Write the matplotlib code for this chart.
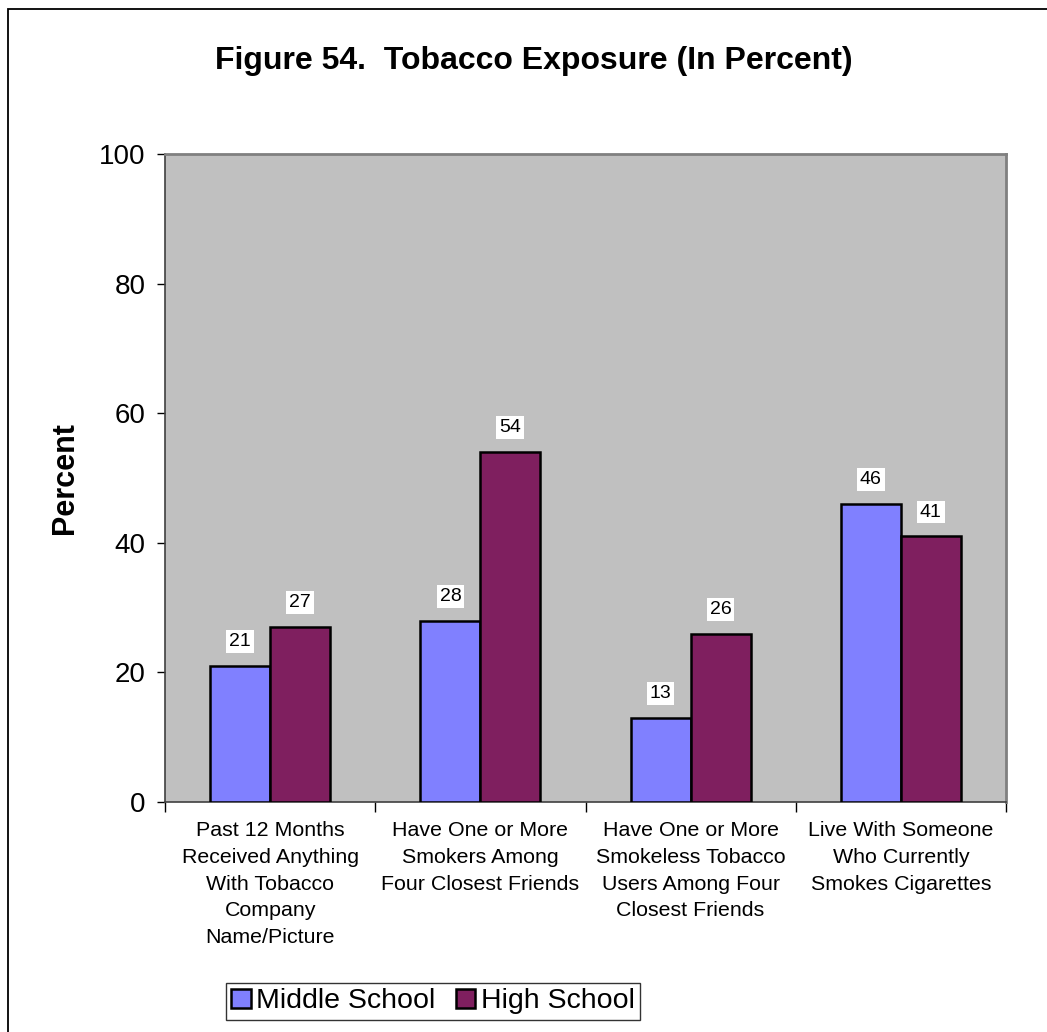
import matplotlib
matplotlib.use("Agg")
import matplotlib.pyplot as plt
from matplotlib.patches import Rectangle

plt.rcParams['font.family'] = ['Liberation Sans', 'DejaVu Sans']

categories = [
    "Past 12 Months\nReceived Anything\nWith Tobacco\nCompany\nName/Picture",
    "Have One or More\nSmokers Among\nFour Closest Friends",
    "Have One or More\nSmokeless Tobacco\nUsers Among Four\nClosest Friends",
    "Live With Someone\nWho Currently\nSmokes Cigarettes",
]
middle_school = [21, 28, 13, 46]
high_school = [27, 54, 26, 41]
series_names = ["Middle School", "High School"]
y_ticks = [0, 20, 40, 60, 80, 100]

W, H = 1047, 1032
fig = plt.figure(figsize=(W / 100, H / 100), dpi=100)

# outer frame of the chart
fig.patches.append(Rectangle((8 / W, -0.1), 2, 1.1 - 9 / H, transform=fig.transFigure,
                             fill=False, edgecolor='black', linewidth=1.3))

ax = fig.add_axes([165 / W, 1 - 802 / H, (1006 - 165) / W, (802 - 154) / H])
ax.set_facecolor('#C0C0C0')

bw = 0.285
xs = list(range(len(categories)))
b1 = ax.bar([x - bw / 2 for x in xs], middle_school, width=bw, color='#8080FF',
            edgecolor='black', linewidth=1.8, label=series_names[0], zorder=3)
b2 = ax.bar([x + bw / 2 for x in xs], high_school, width=bw, color='#7F1F5F',
            edgecolor='black', linewidth=1.8, label=series_names[1], zorder=3)

for bars, vals in ((b1, middle_school), (b2, high_school)):
    for rect, v in zip(bars, vals):
        ax.annotate(str(v), (rect.get_x() + rect.get_width() / 2, v),
                    xytext=(0, 17.5), textcoords='offset points', ha='center', va='center',
                    fontsize=14, zorder=4,
                    bbox=dict(boxstyle='square,pad=0.15', facecolor='white', edgecolor='none'))

ax.set_xlim(-0.5, len(categories) - 0.5)
ax.set_ylim(0, 100)
ax.set_yticks(y_ticks)
ax.set_yticklabels([str(t) for t in y_ticks], fontsize=20)
ax.tick_params(axis='y', length=6, width=1, pad=8)

ax.set_xticks(xs)
ax.set_xticklabels(categories, fontsize=15.4, linespacing=1.51, va='top')
ax.tick_params(axis='x', which='major', length=0, pad=14)
ax.set_xticks([x - 0.5 for x in xs] + [len(categories) - 0.5], minor=True)
ax.tick_params(axis='x', which='minor', length=7, width=1)

for s in ('top', 'right'):
    ax.spines[s].set_color('#808080')
    ax.spines[s].set_linewidth(2)
for s in ('left', 'bottom'):
    ax.spines[s].set_color('#404040')
    ax.spines[s].set_linewidth(1.2)

ax.set_ylabel('Percent', fontsize=22, fontweight='bold')
ax.yaxis.set_label_coords((80 - 165) / (1006 - 165), 0.5)

fig.text(534 / W, 1 - 61 / H, 'Figure 54.  Tobacco Exposure (In Percent)',
         ha='center', va='center', fontsize=23, fontweight='bold')

leg = fig.legend(handles=[b1, b2], labels=series_names, loc='center',
                 bbox_to_anchor=(433 / W, 1 - 1001.5 / H), ncol=2, fontsize=20.5,
                 frameon=True, fancybox=False, edgecolor='black', handlelength=0.68,
                 handleheight=0.68, handletextpad=0.2, columnspacing=0.7,
                 borderpad=0.2, borderaxespad=0)
leg.get_frame().set_linewidth(1)

fig.savefig('out.png', dpi=100)
